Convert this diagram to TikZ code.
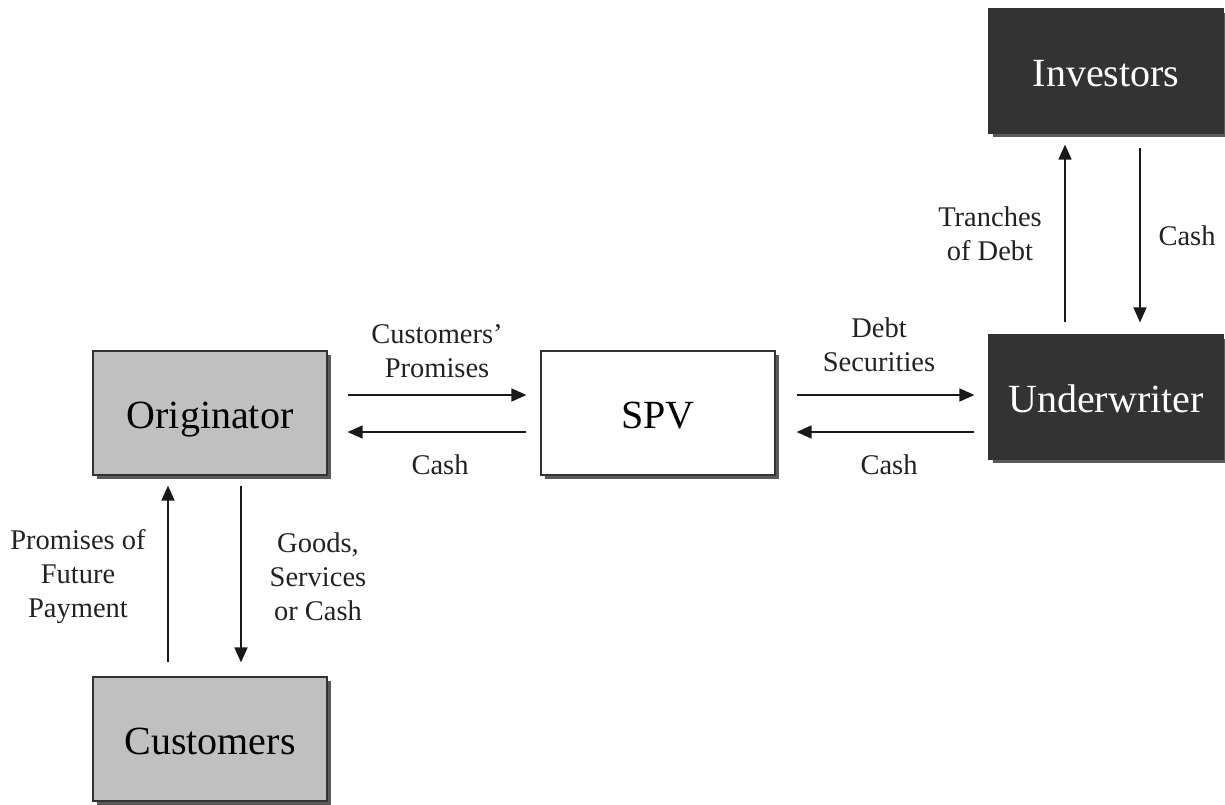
\documentclass[tikz,border=0pt]{standalone}
\usepackage{fontspec}
\setmainfont{Liberation Serif}
\usetikzlibrary{shadows,arrows.meta}
\definecolor{boxgray}{HTML}{C0C0C0}
\definecolor{boxdark}{HTML}{333333}
\definecolor{shadowgray}{HTML}{5A5A5A}
\definecolor{txt}{HTML}{222222}
\begin{document}
\begin{tikzpicture}[x=1pt,y=-1pt,
  box/.style={draw=black!80, line width=1.2pt, minimum width=234pt, minimum height=124pt,
    inner sep=0pt, text height=30pt, text depth=0pt, font=\fontsize{40}{48}\selectfont,
    drop shadow={shadow xshift=4pt, shadow yshift=-4pt, fill=shadowgray, opacity=1}},
  graybox/.style={box, fill=boxgray, text=black},
  whitebox/.style={box, fill=white, text=black},
  darkbox/.style={box, fill=boxdark, text=white},
  lbl/.style={font=\fontsize{28.5}{34}\selectfont, align=center, text=txt, inner sep=0pt},
  arr/.style={line width=1.6pt, draw=black!90, -{Triangle[length=15pt,width=13pt]}}
]
\useasboundingbox (0,0) rectangle (1225,804);
\node[graybox] (orig) at (210,413) {Originator};
\node[whitebox] (spv) at (658,413) {SPV};
\node[darkbox] (uw) at (1106,397) {Underwriter};
\node[darkbox] (inv) at (1106,71) {Investors};
\node[graybox] (cust) at (210,739) {Customers};

% Originator <-> SPV
\draw[arr, shorten <=20pt, shorten >=14pt] ([yshift=18pt]orig.east) -- ([yshift=18pt]orig.east -| spv.west);
\draw[arr, shorten <=14pt, shorten >=20pt] ([yshift=-19pt]spv.west) -- ([yshift=-19pt]spv.west -| orig.east);
% SPV <-> Underwriter
\draw[arr, shorten <=21pt, shorten >=14pt] ([yshift=18pt]spv.east) -- ([yshift=18pt]spv.east -| uw.west);
\draw[arr, shorten <=14pt, shorten >=21pt] ([yshift=-19pt]spv.east -| uw.west) -- ([yshift=-19pt]spv.east);
% Underwriter <-> Investors
\draw[arr, shorten <=12pt, shorten >=11pt] ([xshift=-41pt]uw.north) -- ([xshift=-41pt]inv.south);
\draw[arr, shorten <=14pt, shorten >=12pt] ([xshift=34pt]inv.south) -- ([xshift=34pt]uw.north);
% Customers <-> Originator
\draw[arr, shorten <=14pt, shorten >=10pt] ([xshift=-42pt]cust.north) -- ([xshift=-42pt]orig.south);
\draw[arr, shorten <=10pt, shorten >=14pt] ([xshift=31pt]orig.south) -- ([xshift=31pt]cust.north);

% labels
\node[lbl] (l1) at (437,351) {Customers’\\Promises};
\node[lbl] (l2) at (440,465) {Cash};
\node[lbl] (l3) at (879,345) {Debt\\Securities};
\node[lbl] (l4) at (889,465) {Cash};
\node[lbl] (l5) at (990,234) {Tranches\\of Debt};
\node[lbl] (l6) at (1187,236) {Cash};
\node[lbl] (l7) at (78,577) {Promises of\\Future\\Payment};
\node[lbl] (l8) at (318,577) {Goods,\\Services\\or Cash};
\end{tikzpicture}
\end{document}
